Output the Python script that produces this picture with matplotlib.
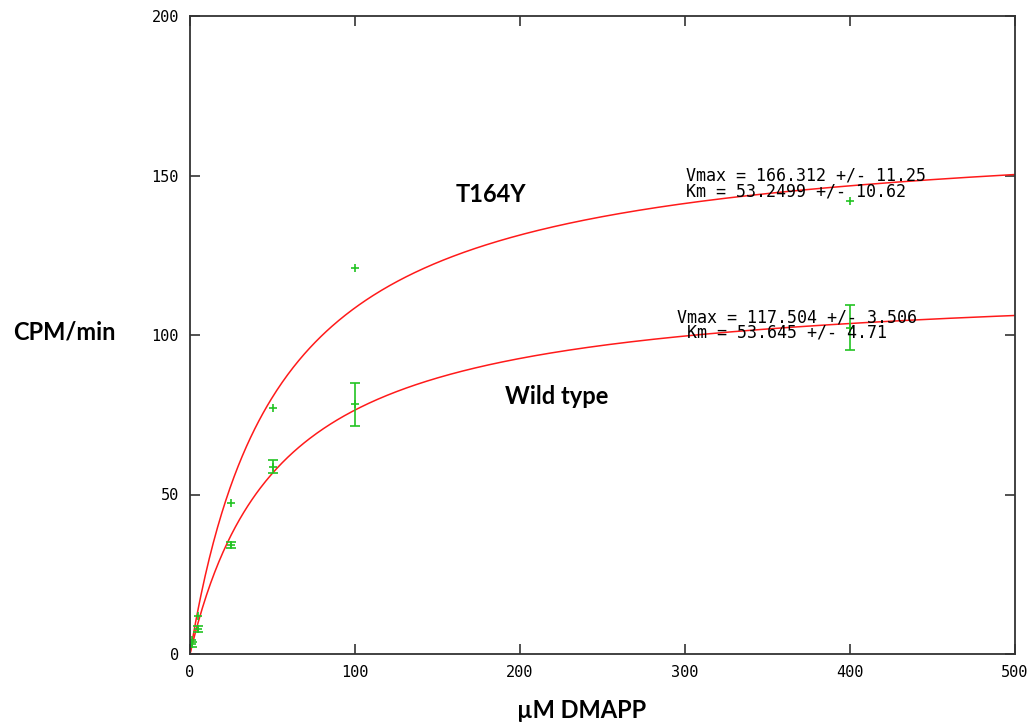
import numpy as np
import matplotlib
matplotlib.use("Agg")
import matplotlib.pyplot as plt

# substrate concentrations (uM DMAPP) and measured rates (CPM/min)
conc = [1, 5, 25, 50, 100, 400]
t164y_rate = [4.4, 11.9, 47.2, 77.1, 121.0, 142.0]
wt_rate = [3.1, 7.8, 34.2, 58.7, 78.3, 102.3]
wt_err = [0.8, 1.0, 1.0, 2.0, 6.7, 7.0]

# Michaelis-Menten fit parameters
t164y_vmax, t164y_km = 166.312, 53.2499
wt_vmax, wt_km = 117.504, 53.645
t164y_fit_text = ["Vmax = 166.312 +/- 11.25", "Km = 53.2499 +/- 10.62"]
wt_fit_text = ["Vmax = 117.504 +/- 3.506", " Km = 53.645 +/- 4.71"]

x_ticks = [0, 100, 200, 300, 400, 500]
y_ticks = [0, 50, 100, 150, 200]

RED = "#ff1a1a"
GREEN = "#22c422"
MONO = "DejaVu Sans Mono"

plt.rcParams["font.family"] = [MONO]

def mm(s, vmax, km):
    return vmax * s / (km + s)

# pixel position (top-left origin) -> figure fraction
def px(x, y):
    return x / 1035, 1 - y / 725

fig = plt.figure(figsize=(10.35, 7.25), dpi=100)
ax = fig.add_axes([190 / 1035, 1 - 654 / 725, 825 / 1035, 638 / 725])

s = np.linspace(0, 500, 600)
ax.plot(s, mm(s, t164y_vmax, t164y_km), color=RED, lw=1.1)
ax.plot(s, mm(s, wt_vmax, wt_km), color=RED, lw=1.1)

ax.plot(conc, t164y_rate, "+", color=GREEN, ms=6, mew=1.2)
ax.errorbar(conc, wt_rate, yerr=wt_err, fmt="+", color=GREEN, ms=6, mew=1.2,
            elinewidth=1.2, capsize=3.5, capthick=1.2)

ax.set_xlim(0, 500)
ax.set_ylim(0, 200)
ax.set_xticks(x_ticks)
ax.set_yticks(y_ticks)
ax.tick_params(direction="in", length=7, width=1.2, top=True, right=True,
               labelsize=11, pad=8, color="#333333")
for sp in ax.spines.values():
    sp.set_linewidth(1.3)
    sp.set_color("#333333")

# fit results
mono = dict(family=MONO, fontsize=12, va="center", ha="left")
fig.text(*px(686, 176), t164y_fit_text[0], **mono)
fig.text(*px(686, 192), t164y_fit_text[1], **mono)
fig.text(*px(677, 317), wt_fit_text[0], **mono)
fig.text(*px(677, 333), wt_fit_text[1], **mono)

bold = dict(family="Lato", fontweight="bold", fontsize=17, ha="center", va="center")
fig.text(*px(491, 195), "T164Y", **bold)
fig.text(*px(557, 397), "Wild type", **bold)
fig.text(*px(64, 332), "CPM/min", **bold)
fig.text(*px(582, 711), "µM DMAPP", **bold)

fig.savefig("out.png", dpi=100)
